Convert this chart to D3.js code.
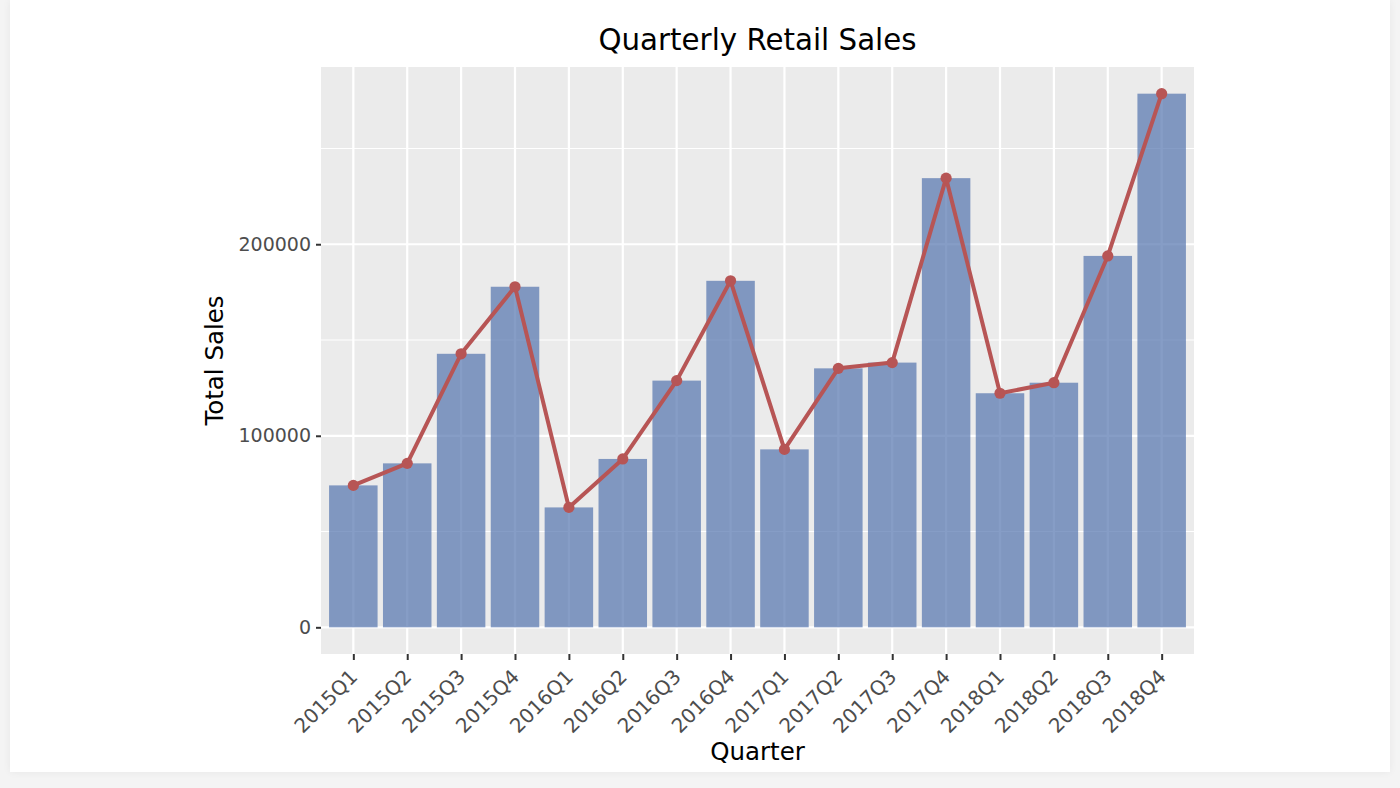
<!DOCTYPE html>
<html>
<head>
<meta charset="utf-8">
<script src="https://cdn.jsdelivr.net/npm/d3@7"></script>
<style>
  html, body { margin: 0; padding: 0; background: #f4f4f4; }
  #card {
    position: absolute; left: 10px; top: 0; width: 1380px; height: 772px;
    background: #fff; box-shadow: 0 0 8px rgba(0,0,0,0.06);
  }
  svg { position: absolute; left: 0; top: 0; }
  text { font-family: "DejaVu Sans", sans-serif; }
</style>
</head>
<body>
<div id="card"></div>
<div id="container"></div>
<script>
const quarters = ["2015Q1", "2015Q2", "2015Q3", "2015Q4", "2016Q1", "2016Q2", "2016Q3", "2016Q4",
                  "2017Q1", "2017Q2", "2017Q3", "2017Q4", "2018Q1", "2018Q2", "2018Q3", "2018Q4"];
const sales = [74100, 85600, 142800, 177800, 62600, 87900, 128800, 180900,
               92900, 135200, 138200, 234500, 122200, 127700, 193900, 278600];
const yTicks = [0, 100000, 200000];
const yMinor = [50000, 150000, 250000];

const W = 1400, H = 788;
const panel = { left: 321, right: 1194, top: 67, bottom: 654 };

var drawChart = function () {
    var svg = d3.select("#container").append("svg")
        .attr("width", W)
        .attr("height", H);

    // discrete axis padding like ggplot (0.6 of a step each side)
    var n = quarters.length;
    var unit = (panel.right - panel.left) / (n - 1 + 1.2);
    var x = d3.scalePoint()
        .domain(quarters)
        .range([panel.left + 0.6 * unit, panel.right - 0.6 * unit]);
    var barW = 0.9 * unit;

    var maxV = d3.max(sales);
    var y = d3.scaleLinear()
        .domain([-0.05 * maxV, 1.05 * maxV])
        .range([panel.bottom, panel.top]);

    svg.append("rect")
        .attr("x", panel.left).attr("y", panel.top)
        .attr("width", panel.right - panel.left)
        .attr("height", panel.bottom - panel.top)
        .attr("fill", "#ebebeb");

    // grid
    svg.append("g").selectAll("line").data(yMinor).join("line")
        .attr("x1", panel.left).attr("x2", panel.right)
        .attr("y1", d => y(d)).attr("y2", d => y(d))
        .attr("stroke", "#fff").attr("stroke-width", 1.1);
    svg.append("g").selectAll("line").data(yTicks).join("line")
        .attr("x1", panel.left).attr("x2", panel.right)
        .attr("y1", d => y(d)).attr("y2", d => y(d))
        .attr("stroke", "#fff").attr("stroke-width", 2.2);
    svg.append("g").selectAll("line").data(quarters).join("line")
        .attr("x1", d => x(d)).attr("x2", d => x(d))
        .attr("y1", panel.top).attr("y2", panel.bottom)
        .attr("stroke", "#fff").attr("stroke-width", 2.2);

    // bars
    svg.append("g").selectAll("rect").data(quarters).join("rect")
        .attr("x", d => x(d) - barW / 2)
        .attr("width", barW)
        .attr("y", (d, i) => y(sales[i]))
        .attr("height", (d, i) => y(0) - y(sales[i]))
        .attr("fill", "#5273ae")
        .attr("fill-opacity", 0.7);

    // line + points
    var line = d3.line()
        .x((d, i) => x(quarters[i]))
        .y(d => y(d));
    svg.append("path")
        .datum(sales)
        .attr("d", line)
        .attr("fill", "none")
        .attr("stroke", "#b75555")
        .attr("stroke-width", 4)
        .attr("stroke-linejoin", "round");
    svg.append("g").selectAll("circle").data(sales).join("circle")
        .attr("cx", (d, i) => x(quarters[i]))
        .attr("cy", d => y(d))
        .attr("r", 5.6)
        .attr("fill", "#b75555");

    // y axis
    var yAxis = d3.axisLeft(y).tickValues(yTicks).tickSize(5).tickPadding(5)
        .tickFormat(d3.format("d"));
    var gy = svg.append("g")
        .attr("transform", "translate(" + panel.left + ",0)")
        .call(yAxis);
    gy.select(".domain").remove();
    gy.selectAll(".tick line").attr("stroke", "#333").attr("stroke-width", 2);
    gy.selectAll(".tick text")
        .attr("fill", "#4d4d4d")
        .style("font-size", "19px")
        .style("font-family", "DejaVu Sans");

    // x axis
    var xAxis = d3.axisBottom(x).tickSize(6).tickPadding(4);
    var gx = svg.append("g")
        .attr("transform", "translate(0," + panel.bottom + ")")
        .call(xAxis);
    gx.select(".domain").remove();
    gx.selectAll(".tick line").attr("stroke", "#333").attr("stroke-width", 2);
    gx.selectAll(".tick text")
        .attr("fill", "#4d4d4d")
        .style("font-size", "20px")
        .style("font-family", "DejaVu Sans")
        .attr("text-anchor", "end")
        .attr("dy", null)
        .attr("y", 0)
        .attr("transform", "translate(5,24) rotate(-45)");

    // titles
    svg.append("text")
        .attr("x", (panel.left + panel.right) / 2)
        .attr("y", 50)
        .attr("text-anchor", "middle")
        .style("font-size", "29.3px")
        .attr("fill", "#000")
        .text("Quarterly Retail Sales");
    svg.append("text")
        .attr("x", (panel.left + panel.right) / 2)
        .attr("y", 760)
        .attr("text-anchor", "middle")
        .style("font-size", "24.5px")
        .attr("fill", "#000")
        .text("Quarter");
    svg.append("text")
        .attr("transform", "translate(223," + ((panel.top + panel.bottom) / 2) + ") rotate(-90)")
        .attr("text-anchor", "middle")
        .style("font-size", "24.5px")
        .attr("fill", "#000")
        .text("Total Sales");
};

window.onload = drawChart;
</script>
</body>
</html>
